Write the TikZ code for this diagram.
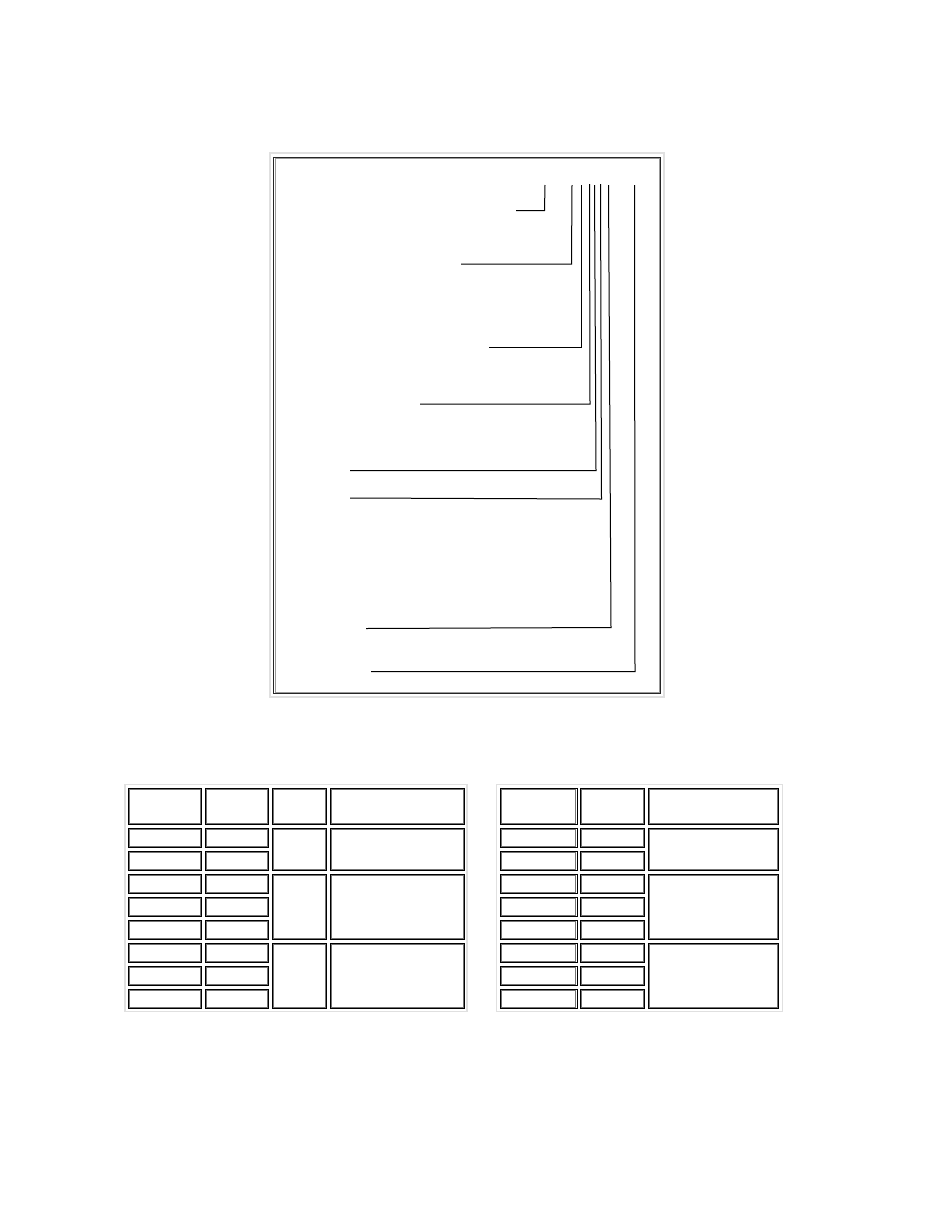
\documentclass[tikz,border=0pt]{standalone}
\tikzset{
  lead/.style={draw=black,line width=1pt},
  cellA/.style={draw=black,line width=1pt},
  cellB/.style={draw=black!55,line width=0.9pt},
  tblout/.style={draw=black!12,line width=1.5pt},
  frameA/.style={draw=black!85,line width=1pt},
  frameB/.style={draw=black!40,line width=0.7pt}
}
\newcommand\cellbox[4]{%
  \draw[cellA] (#1,#2) rectangle (#3,#4);
  \draw[cellB] (#1+1.1,#2+1.1) rectangle (#3-1.1,#4-1.1);}
\begin{document}
\begin{tikzpicture}[x=1pt,y=-1pt]
\useasboundingbox[fill=white] (0,0) rectangle (935,1210);
% top frame
\draw[tblout] (270,153) rectangle (664,697);
\draw[frameA] (273.7,157.3) rectangle (660.5,693.5);
\draw[frameB] (274.9,158.5) rectangle (659.3,692.3);
% leader lines
\coordinate (t1) at (545,185);   \coordinate (c1) at (544.5,210.5); \coordinate (e1) at (516,210.5);
\coordinate (t2) at (572,185);   \coordinate (c2) at (571.5,264);   \coordinate (e2) at (461,264);
\coordinate (t3) at (581,185);   \coordinate (c3) at (581,347.5);   \coordinate (e3) at (489,347.5);
\coordinate (t4) at (589.5,184); \coordinate (c4) at (590,404);     \coordinate (e4) at (420,404);
\coordinate (t5) at (594.5,185); \coordinate (c5) at (596,470.5);   \coordinate (e5) at (350,470.5);
\coordinate (t6) at (600.5,184); \coordinate (c6) at (601.5,499);   \coordinate (e6) at (350,498);
\coordinate (t7) at (608.5,185); \coordinate (c7) at (611,627.5);   \coordinate (e7) at (366,628.5);
\coordinate (t8) at (634.5,185); \coordinate (c8) at (635,671.5);   \coordinate (e8) at (371,671.5);
\foreach \i in {1,...,8} {\draw[lead] (t\i) -- (c\i) -- (e\i);}
% left table
\draw[tblout] (125,784.5) rectangle (467,1011.5);
\cellbox{128.3}{788.3}{201.7}{824.3}
\cellbox{205.3}{788.3}{268.3}{824.3}
\cellbox{272.3}{788.3}{326.3}{824.3}
\cellbox{330.3}{788.3}{464.3}{824.3}
\foreach \i in {0,...,7} {
  \pgfmathsetmacro\ta{828.5+23*\i}
  \pgfmathsetmacro\tb{\ta+19}
  \cellbox{128.3}{\ta}{201.7}{\tb}
  \cellbox{205.3}{\ta}{268.3}{\tb}
}
\cellbox{272.3}{828.5}{326.3}{870.5}
\cellbox{330.3}{828.5}{464.3}{870.5}
\cellbox{272.3}{874.5}{326.3}{939.5}
\cellbox{330.3}{874.5}{464.3}{939.5}
\cellbox{272.3}{943.5}{326.3}{1008.5}
\cellbox{330.3}{943.5}{464.3}{1008.5}
% right table
\draw[tblout] (496.7,784.5) rectangle (782.3,1011.5);
\cellbox{500}{788.3}{577}{824.3}
\cellbox{580.7}{788.3}{644.3}{824.3}
\cellbox{648.3}{788.3}{778.7}{824.3}
\foreach \i in {0,...,7} {
  \pgfmathsetmacro\ta{828.5+23*\i}
  \pgfmathsetmacro\tb{\ta+19}
  \cellbox{500}{\ta}{577}{\tb}
  \cellbox{580.7}{\ta}{644.3}{\tb}
}
\cellbox{648.3}{828.5}{778.7}{870.5}
\cellbox{648.3}{874.5}{778.7}{939.5}
\cellbox{648.3}{943.5}{778.7}{1008.5}
\end{tikzpicture}
\end{document}
